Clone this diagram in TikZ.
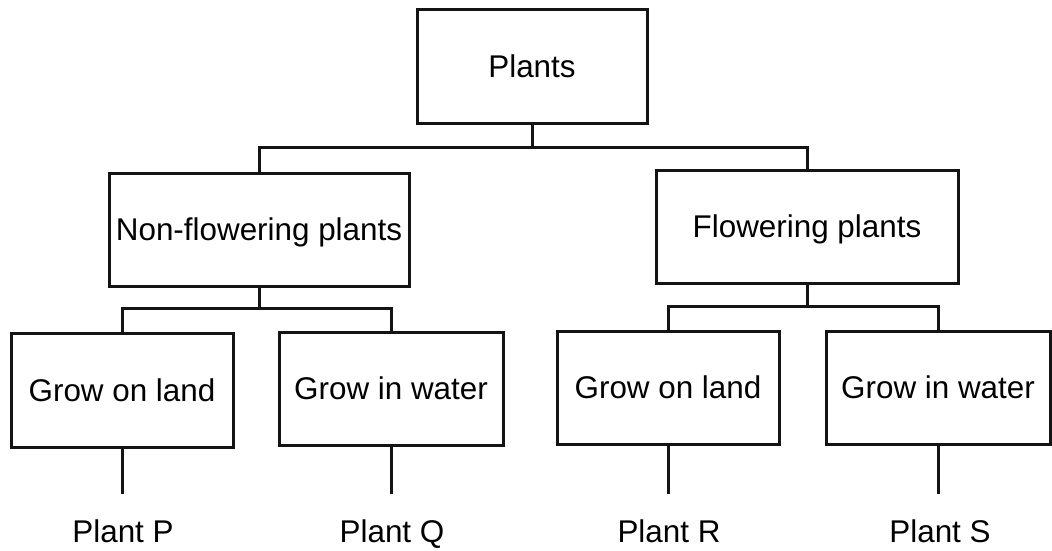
\documentclass[tikz,border=0pt]{standalone}
\usepackage{fontspec}
\setmainfont{Liberation Sans}
\begin{document}
\begin{tikzpicture}[x=1pt,y=-1pt,
  ink/.style={line width=3pt,draw=black!92},
  box/.style={ink,rectangle,inner sep=0pt,text height=22pt,text depth=0pt,
    font=\fontsize{31.4}{36}\selectfont},
  leaf/.style={inner sep=0pt,text height=22pt,text depth=0pt,
    font=\fontsize{31.4}{36}\selectfont},
  link/.style={ink,line cap=rect},
  stem/.style={ink,shorten >=26pt}]
\useasboundingbox (0,0) rectangle (1052,550);

% classification boxes
\node[box,minimum width=230pt,minimum height=114pt] (root) at (532,66) {Plants};
\node[box,minimum width=300pt,minimum height=113pt] (nf) at (259,229.5) {Non-flowering plants};
\node[box,minimum width=302pt,minimum height=113pt] (fl) at (807,226.5) {Flowering plants};
\node[box,minimum width=222pt,minimum height=114pt] (gl1) at (122,390) {Grow on land};
\node[box,minimum width=224pt,minimum height=113pt] (gw1) at (391,388.5) {Grow in water};
\node[box,minimum width=222pt,minimum height=113pt] (gl2) at (668,387.5) {Grow on land};
\node[box,minimum width=224pt,minimum height=113pt] (gw2) at (938,387.5) {Grow in water};

% example plants
\node[leaf] (pp) at (123,531) {Plant P};
\node[leaf] (pq) at (392,531) {Plant Q};
\node[leaf] (pr) at (669,531) {Plant R};
\node[leaf] (ps) at (940,531) {Plant S};

% branch points
\coordinate (b0) at (532,147);
\coordinate (b1) at (259,308);
\coordinate (b2) at (807,306);

% tree connectors
\draw[ink] (root.south) -- (b0);
\draw[link] (nf.north) |- (b0) -| (fl.north);
\draw[ink] (nf.south) -- (b1);
\draw[link] (gl1.north) |- (b1) -| (gw1.north);
\draw[ink] (fl.south) -- (b2);
\draw[link] (gl2.north) |- (b2) -| (gw2.north);

% stems to the example plants
\draw[stem] (gl1.south) -- (gl1.south |- pp.north);
\draw[stem] (gw1.south) -- (gw1.south |- pq.north);
\draw[stem] (gl2.south) -- (gl2.south |- pr.north);
\draw[stem] (gw2.south) -- (gw2.south |- ps.north);
\end{tikzpicture}
\end{document}
